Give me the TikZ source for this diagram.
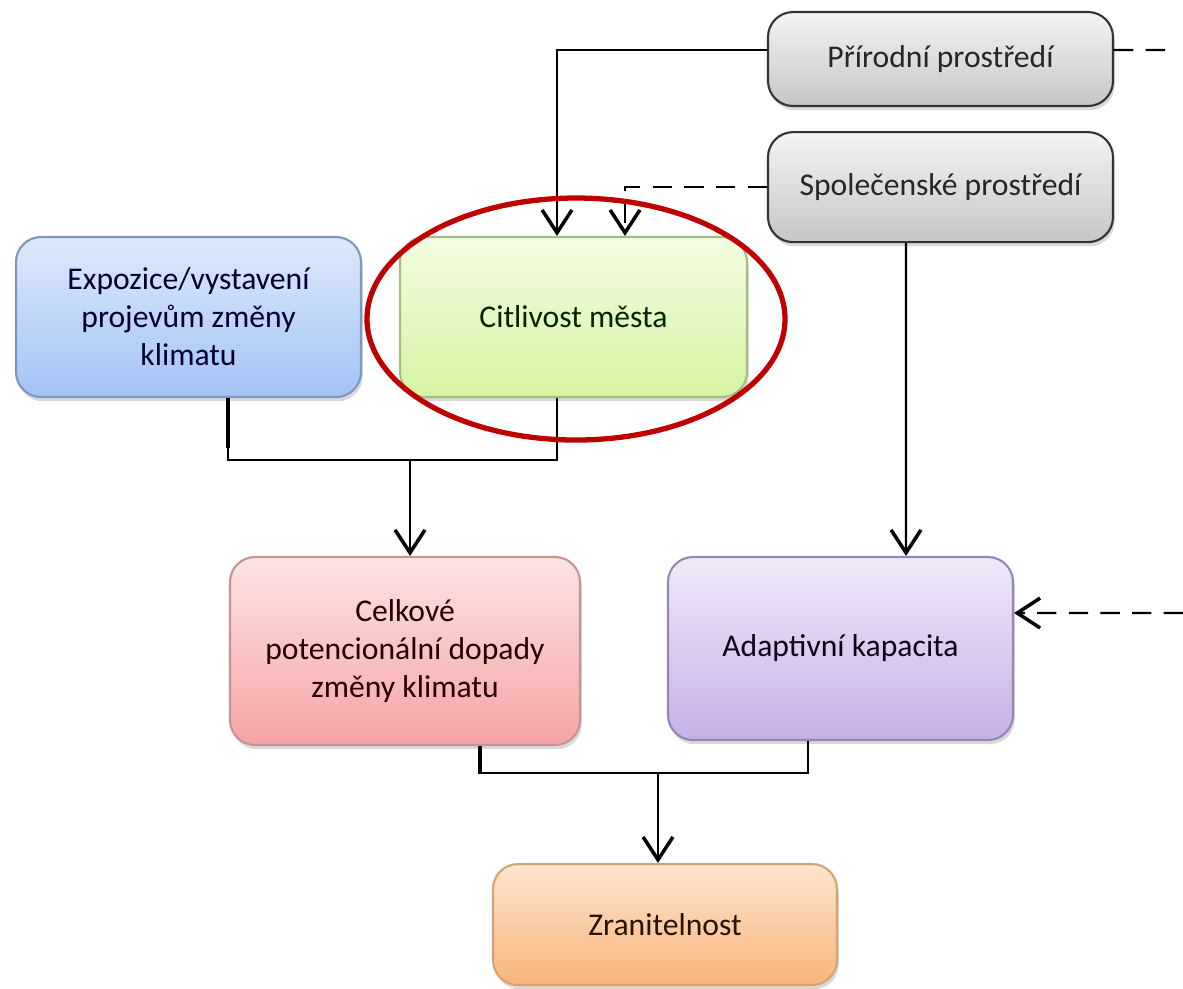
\documentclass[tikz,border=0pt]{standalone}
\usepackage{fontspec}
\setmainfont{Carlito}
\usetikzlibrary{arrows.meta, positioning, shadows, shapes.geometric}

\definecolor{grayT}{HTML}{F4F4F4}\definecolor{grayB}{HTML}{C6C6C6}
\definecolor{blueT}{HTML}{DDE9FB}\definecolor{blueB}{HTML}{A3C3F4}
\definecolor{greenT}{HTML}{F3FCE2}\definecolor{greenB}{HTML}{D6F4A2}
\definecolor{redT}{HTML}{FDE4E4}\definecolor{redB}{HTML}{F6A4A4}
\definecolor{violetT}{HTML}{F0E9F9}\definecolor{violetB}{HTML}{C7B0E6}
\definecolor{orangeT}{HTML}{FDE5CE}\definecolor{orangeB}{HTML}{F8B47A}
\definecolor{blueD}{HTML}{7F96BE}\definecolor{greenD}{HTML}{A6BE82}
\definecolor{redD}{HTML}{C49494}\definecolor{violetD}{HTML}{9686B6}
\definecolor{orangeD}{HTML}{D4A374}

\begin{document}
\begin{tikzpicture}[
  x=0.1mm, y=-0.1mm,
  box/.style={draw, line width=0.6pt, rounded corners=2.5mm, align=center,
    minimum width=34.5mm, font=\fontsize{9}{10.8}\selectfont,
    drop shadow={shadow xshift=0.5pt, shadow yshift=-1.2pt, opacity=0.3}},
  link/.style={line width=0.6pt},
  stub/.style={line width=1pt},
  arrow/.style={link, -{Straight Barb[length=6.5pt, width=8.5pt, line width=1pt]}},
  dashlink/.style={link, dash pattern=on 5.5pt off 3.5pt}
]
\useasboundingbox (0,0) rectangle (1183,988);

% Nodes
\node (prir) [box, draw=black!80, top color=grayT, bottom color=grayB,
  minimum height=9.4mm, text=black!85] at (940.5,59) {Přírodní prostředí};
\node (spol) [box, draw=black!80, top color=grayT, bottom color=grayB,
  minimum height=11mm, text=black!85, below=2.4mm of prir] {Společenské prostředí};

\node (expo) [box, draw=blueD, top color=blueT, bottom color=blueB,
  minimum height=16mm, text=blue!20!black] at (188.5,317)
  {Expozice/vystavení\\ projevům změny\\ klimatu};
\node (citl) [box, draw=greenD, top color=greenT, bottom color=greenB,
  minimum height=16mm, minimum width=34.7mm, text=green!15!black] at (573.5,317)
  {Citlivost města};

\node (celk) [box, draw=redD, top color=redT, bottom color=redB,
  minimum height=18.8mm, minimum width=35mm, text=red!15!black] at (405,651)
  {Celkové\\ potencionální dopady\\ změny klimatu};
\node (adap) [box, draw=violetD, top color=violetT, bottom color=violetB,
  minimum height=18.3mm, text=violet!15!black] at (840.5,648.5)
  {Adaptivní kapacita};

\node (zran) [box, draw=orangeD, top color=orangeT, bottom color=orangeB,
  minimum height=12.1mm, minimum width=34.4mm, text=orange!15!black] at (665,924.5)
  {Zranitelnost};

\coordinate (j1) at (410,460);
\coordinate (j2) at (658,773);
\coordinate (outtop) at (1172,50);
\coordinate (outside) at (1183,613);

% Arrows
\draw [arrow] ([yshift=0.9mm]prir.west) -| ([xshift=-1.65mm]citl.north);
\draw [arrow, dashlink] (spol.west) -| ([xshift=5.15mm]citl.north);
\draw [arrow] ([xshift=-3.45mm]spol.south) -- ([xshift=6.55mm]adap.north);
\draw [dashlink] ([yshift=0.9mm]prir.east) -- (outtop);
\draw [arrow, dashlink] (outside) -- ([yshift=3.55mm]adap.east);

\draw [stub] ([xshift=3.95mm]expo.south) -- ++(0,50);
\draw [link] ([xshift=3.95mm]expo.south) |- (j1) -| ([xshift=-1.65mm]citl.south);
\draw [arrow] (j1) -- (j1 |- celk.north);
\draw [stub] ([xshift=7.5mm]celk.south) -- ++(0,28);
\draw [link] ([xshift=7.5mm]celk.south) |- (j2) -| ([xshift=-3.25mm]adap.south);
\draw [arrow] (j2) -- (j2 |- zran.north);

% Highlight
\node (ring) [ellipse, draw=red!75!black, line width=1.5pt,
  minimum width=41.8mm, minimum height=24.2mm] at (576,319) {};

\end{tikzpicture}
\end{document}
